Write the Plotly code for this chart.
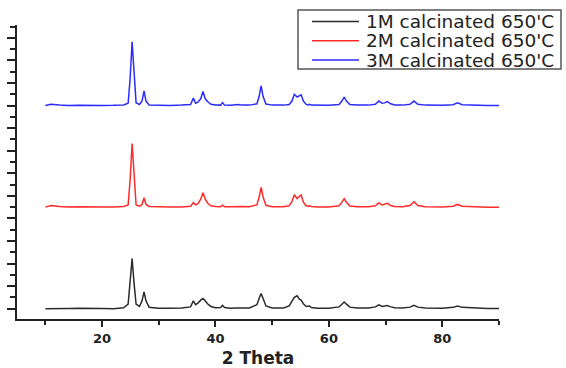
import plotly.graph_objects as go

two_theta = [10, 11, 12.5, 14, 16, 18, 20, 22, 23.8, 24.6,
             24.95, 25.3, 25.65, 26.0, 26.6, 27.05, 27.4, 27.75, 28.3, 30,
             32, 34, 35.6, 36.1, 36.5, 36.9, 37.4, 37.8, 38.2, 38.6,
             39.2, 40, 40.9, 41.25, 41.6, 42.6, 43.6, 44.1, 44.7, 46,
             47.3, 47.7, 48.05, 48.4, 48.9, 50, 52, 53.0, 53.5, 53.9,
             54.4, 54.8, 55.1, 55.5, 56.0, 56.3, 56.6, 56.9, 58, 60,
             61.8, 62.3, 62.7, 63.1, 63.7, 65, 67, 68.2, 68.8, 69.4,
             69.8, 70.3, 70.9, 71.6, 73, 74.3, 75.0, 75.7, 77, 80,
             81.9, 82.7, 83.5, 86, 88, 90]

# relative intensities (arbitrary units, above each pattern's baseline)
i_1m = [0.0, 0.01, 0.0, 0.01, 0.02, 0.0, 0.01, 0.0, 0.04, 0.2,
        1.2, 2.22, 1.1, 0.2, 0.1, 0.35, 0.74, 0.35, 0.06, 0.02,
        0.02, 0.03, 0.08, 0.35, 0.18, 0.25, 0.38, 0.45, 0.35, 0.22,
        0.1, 0.04, 0.05, 0.15, 0.05, 0.02, 0.03, 0.04, 0.03, 0.03,
        0.18, 0.45, 0.67, 0.45, 0.12, 0.03, 0.03, 0.12, 0.35, 0.5,
        0.57, 0.42, 0.38, 0.22, 0.1, 0.1, 0.12, 0.05, 0.02, 0.02,
        0.08, 0.2, 0.3, 0.2, 0.07, 0.03, 0.03, 0.08, 0.17, 0.1,
        0.12, 0.14, 0.08, 0.04, 0.03, 0.07, 0.15, 0.07, 0.03, 0.02,
        0.06, 0.12, 0.06, 0.02, 0.01, 0.01]

i_2m = [0.0, 0.07, 0.03, 0.01, 0.02, 0.0, 0.01, 0.01, 0.03, 0.1,
        1.2, 2.82, 1.2, 0.1, 0.04, 0.12, 0.42, 0.12, 0.03, 0.01,
        0.01, 0.01, 0.04, 0.2, 0.1, 0.15, 0.35, 0.64, 0.35, 0.18,
        0.06, 0.03, 0.02, 0.09, 0.02, 0.02, 0.03, 0.05, 0.03, 0.02,
        0.1, 0.45, 0.88, 0.45, 0.08, 0.02, 0.02, 0.06, 0.25, 0.55,
        0.38, 0.48, 0.54, 0.22, 0.06, 0.04, 0.06, 0.03, 0.01, 0.01,
        0.06, 0.22, 0.38, 0.22, 0.05, 0.02, 0.02, 0.06, 0.19, 0.1,
        0.12, 0.17, 0.07, 0.03, 0.02, 0.07, 0.24, 0.07, 0.02, 0.01,
        0.04, 0.12, 0.04, 0.01, 0.0, 0.0]

i_3m = [0.0, 0.06, 0.02, 0.0, 0.01, -0.01, 0.0, 0.01, 0.03, 0.1,
        1.2, 2.83, 1.2, 0.12, 0.05, 0.2, 0.65, 0.2, 0.03, 0.01,
        0.0, 0.02, 0.05, 0.33, 0.1, 0.15, 0.3, 0.62, 0.3, 0.18,
        0.06, 0.03, 0.02, 0.13, 0.02, 0.01, 0.02, 0.05, 0.02, 0.02,
        0.08, 0.4, 0.87, 0.4, 0.07, 0.02, 0.02, 0.05, 0.2, 0.5,
        0.38, 0.45, 0.48, 0.2, 0.05, 0.03, 0.06, 0.02, 0.01, 0.01,
        0.05, 0.2, 0.38, 0.2, 0.05, 0.02, 0.02, 0.06, 0.2, 0.1,
        0.12, 0.18, 0.08, 0.03, 0.02, 0.06, 0.2, 0.06, 0.02, 0.01,
        0.04, 0.12, 0.04, 0.01, 0.0, 0.0]

series_names = ["1M calcinated 650'C", "2M calcinated 650'C", "3M calcinated 650'C"]
series_values = [i_1m, i_2m, i_3m]
stack_offsets = [0.0, 4.5, 9.0]
series_colors = ["#2b2b2b", "#ff2b2b", "#2b2bff"]
x_tick_values = [20, 40, 60, 80]
x_tick_labels = ["20", "40", "60", "80"]

FONT = "DejaVu Sans"
W, H = 566, 368
ML, MR, MT, MB = 17, 67, 25, 49
PW, PH = W - ML - MR, H - MT - MB


def px_x(px):
    return (px - ML) / PW


def px_y(py):
    return (H - MB - py) / PH


fig = go.Figure()
for name, vals, off, col in zip(series_names, series_values, stack_offsets, series_colors):
    fig.add_trace(go.Scatter(
        x=two_theta,
        y=[v + off for v in vals],
        mode="lines",
        name=name,
        line=dict(color=col, width=1.5),
        showlegend=False,
    ))

# legend box drawn as shapes + text annotations (matches the boxed legend)
shapes = [dict(type="rect", xref="paper", yref="paper",
               x0=px_x(298), x1=px_x(561), y0=px_y(69), y1=px_y(10),
               line=dict(color="#555555", width=1.5), fillcolor="white", layer="above")]
annotations = []
for i, (name, col) in enumerate(zip(series_names, series_colors)):
    row = 21.5 + 19.3 * i
    shapes.append(dict(type="line", xref="paper", yref="paper",
                       x0=px_x(312), x1=px_x(359), y0=px_y(row), y1=px_y(row),
                       line=dict(color=col, width=1.5), layer="above"))
    annotations.append(dict(xref="paper", yref="paper", x=px_x(364), y=px_y(row),
                            xanchor="left", yanchor="middle", showarrow=False,
                            text=name, font=dict(family=FONT, size=18.5, color="#222222")))

fig.update_layout(
    width=W,
    height=H,
    margin=dict(l=ML, r=MR, t=MT, b=MB, autoexpand=False),
    paper_bgcolor="white",
    plot_bgcolor="white",
    font=dict(family=FONT, color="#222222"),
    showlegend=False,
    shapes=shapes,
    annotations=annotations,
)

fig.update_xaxes(
    range=[5, 90], automargin=False,
    showgrid=False, zeroline=False,
    showline=True, linecolor="#222222", linewidth=2,
    tickmode="array", tickvals=x_tick_values, ticktext=x_tick_labels,
    ticks="outside", ticklen=6, tickwidth=2, tickcolor="#222222",
    tickfont=dict(family=FONT, size=13, color="#222222", weight="bold"),
    minor=dict(tick0=0, dtick=10, ticks="outside", ticklen=4, tickwidth=2, tickcolor="#222222"),
    title=dict(text="2 Theta", font=dict(family=FONT, size=17, color="#222222", weight="bold"), standoff=8),
)

fig.update_yaxes(
    range=[-0.456, 12.57], automargin=False,
    showgrid=False, zeroline=False,
    showline=True, linecolor="#222222", linewidth=2,
    showticklabels=False,
    tick0=0, dtick=1,
    ticks="outside", ticklen=8, tickwidth=2, tickcolor="#222222",
    minor=dict(tick0=0.5, dtick=1, ticks="outside", ticklen=5, tickwidth=2, tickcolor="#222222"),
)

fig.write_html("out.html", config={"displayModeBar": False},
               post_script="document.body.style.margin='0px';")
